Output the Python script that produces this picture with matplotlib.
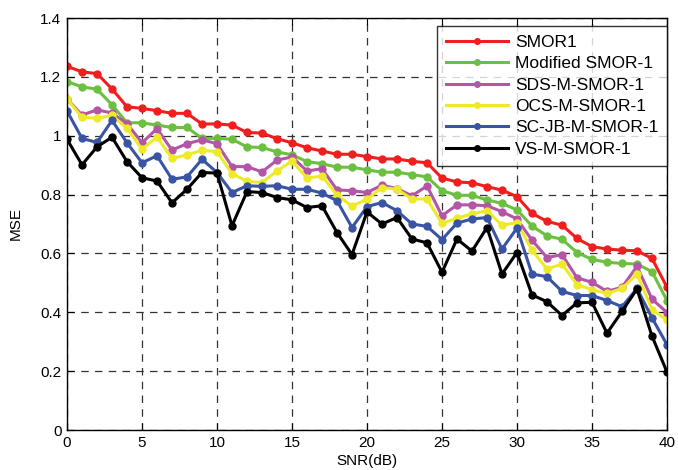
import matplotlib
matplotlib.use("Agg")
import matplotlib.pyplot as plt
import numpy as np

plt.rcParams['font.family'] = ['Liberation Sans', 'DejaVu Sans']

snr = list(range(0, 41))

smor1 = [1.236, 1.217, 1.211, 1.159, 1.098, 1.093, 1.085, 1.076, 1.076, 1.040,
         1.040, 1.036, 1.011, 1.009, 0.990, 0.976, 0.959, 0.948, 0.937, 0.937,
         0.929, 0.921, 0.921, 0.913, 0.908, 0.856, 0.843, 0.840, 0.827, 0.815,
         0.793, 0.736, 0.709, 0.696, 0.651, 0.623, 0.615, 0.611, 0.609, 0.583, 0.485]
modified = [1.184, 1.166, 1.158, 1.105, 1.044, 1.044, 1.036, 1.028, 1.028, 0.991,
            0.991, 0.988, 0.962, 0.960, 0.945, 0.935, 0.912, 0.905, 0.893, 0.893,
            0.884, 0.876, 0.876, 0.868, 0.860, 0.813, 0.798, 0.797, 0.782, 0.770,
            0.748, 0.693, 0.660, 0.648, 0.603, 0.580, 0.570, 0.566, 0.564, 0.538, 0.440]
sds = [1.125, 1.070, 1.088, 1.077, 1.041, 0.976, 1.024, 0.951, 0.973, 0.986,
       0.973, 0.895, 0.895, 0.877, 0.917, 0.928, 0.880, 0.888, 0.816, 0.813,
       0.807, 0.832, 0.820, 0.796, 0.829, 0.728, 0.765, 0.765, 0.762, 0.742,
       0.717, 0.645, 0.586, 0.596, 0.517, 0.502, 0.471, 0.485, 0.556, 0.445, 0.399]
ocs = [1.125, 1.063, 1.059, 1.069, 1.025, 0.954, 0.996, 0.923, 0.935, 0.950,
       0.946, 0.871, 0.845, 0.841, 0.880, 0.914, 0.856, 0.863, 0.798, 0.761,
       0.784, 0.824, 0.818, 0.785, 0.785, 0.702, 0.719, 0.735, 0.745, 0.696,
       0.705, 0.611, 0.547, 0.564, 0.494, 0.477, 0.464, 0.481, 0.530, 0.409, 0.374]
scjb = [1.084, 0.991, 0.977, 1.052, 0.976, 0.908, 0.932, 0.852, 0.860, 0.920,
        0.875, 0.807, 0.830, 0.828, 0.830, 0.818, 0.818, 0.805, 0.779, 0.688,
        0.759, 0.773, 0.745, 0.700, 0.692, 0.647, 0.703, 0.717, 0.722, 0.615,
        0.686, 0.530, 0.521, 0.471, 0.457, 0.457, 0.440, 0.419, 0.481, 0.381, 0.290]
vs = [0.988, 0.901, 0.962, 0.995, 0.912, 0.857, 0.846, 0.772, 0.818, 0.875,
      0.873, 0.694, 0.810, 0.807, 0.790, 0.782, 0.756, 0.762, 0.671, 0.596,
      0.741, 0.700, 0.722, 0.649, 0.636, 0.536, 0.649, 0.608, 0.688, 0.530,
      0.603, 0.459, 0.436, 0.389, 0.432, 0.434, 0.329, 0.403, 0.479, 0.319, 0.197]

series = [
    ("SMOR1", smor1, "#f01e1e"),
    ("Modified SMOR-1", modified, "#6cc040"),
    ("SDS-M-SMOR-1", sds, "#b455a8"),
    ("OCS-M-SMOR-1", ocs, "#eeea2a"),
    ("SC-JB-M-SMOR-1", scjb, "#3a54a4"),
    ("VS-M-SMOR-1", vs, "#000000"),
]

xticks = [0, 5, 10, 15, 20, 25, 30, 35, 40]
yticks = [0, 0.2, 0.4, 0.6, 0.8, 1.0, 1.2, 1.4]
ytick_labels = ["0", "0.2", "0.4", "0.6", "0.8", "1", "1.2", "1.4"]

W, H = 678, 470
L, R, T, B = 67, 667, 18, 430
fig = plt.figure(figsize=(W / 100, H / 100), dpi=100)
ax = fig.add_axes([L / W, (H - B) / H, (R - L) / W, (B - T) / H])

for name, vals, col in series:
    ax.plot(snr, vals, color=col, lw=2.2, marker='o', ms=5, label=name)

ax.set_xlim(0, 40)
ax.set_ylim(0, 1.4)
ax.set_xticks(xticks)
ax.set_yticks(yticks)
ax.set_yticklabels(ytick_labels)
ax.tick_params(direction='in', top=True, right=True, labelsize=11, length=5, pad=4)
ax.grid(True, color='#333333', linestyle=(0, (6, 5)), lw=0.9)
for s in ax.spines.values():
    s.set_linewidth(1.0)
ax.set_xlabel("SNR(dB)", fontsize=11, labelpad=3)
ax.set_ylabel("MSE", fontsize=11, labelpad=13)

# legend box in reference: x 434..669, y 27..167 (pixels)
anchor = ((667 - L) / (R - L), (B - 26) / (B - T))
leg = ax.legend(loc='upper right', bbox_to_anchor=anchor, borderaxespad=0.0,
                fontsize=12.5, handlelength=3.6, markerscale=0.8,
                frameon=True, fancybox=False, edgecolor='black',
                labelspacing=0.36, handletextpad=0.4, borderpad=0.5)
leg.get_frame().set_linewidth(1.0)

fig.savefig("out.png", dpi=100)
